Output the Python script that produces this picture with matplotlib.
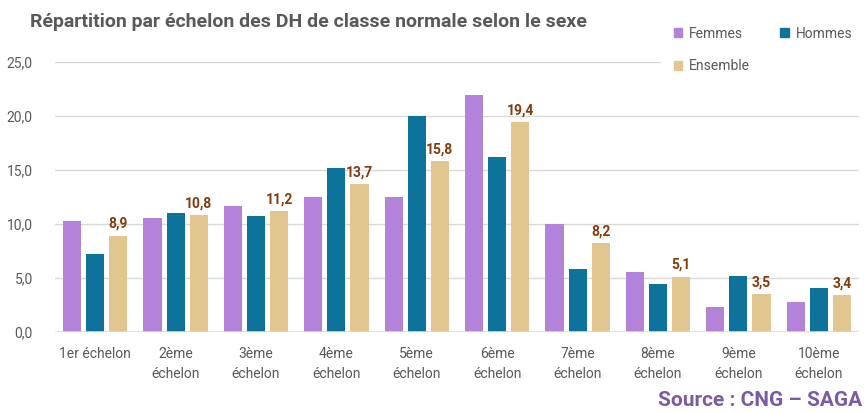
import numpy as np
import matplotlib.pyplot as plt
from matplotlib.patches import Patch

# Data
categories = ['1er échelon', '2ème\néchelon', '3ème\néchelon', '4ème\néchelon', '5ème\néchelon',
              '6ème\néchelon', '7ème\néchelon', '8ème\néchelon', '9ème\néchelon', '10ème\néchelon']
femmes = [10.3, 10.55, 11.7, 12.5, 12.5, 21.9, 10.0, 5.6, 2.3, 2.8]
hommes = [7.2, 11.0, 10.7, 15.2, 20.0, 16.2, 5.8, 4.45, 5.2, 4.1]
ensemble = [8.9, 10.8, 11.2, 13.7, 15.8, 19.4, 8.2, 5.1, 3.5, 3.4]
yticks = [0, 5, 10, 15, 20, 25]

c_f = '#B383D9'
c_h = '#0E739B'
c_e = '#E2C68F'
grey = '#595959'

plt.rcParams['font.family'] = ['Roboto', 'DejaVu Sans']

fig = plt.figure(figsize=(8.67, 4.12), dpi=100, facecolor='white')
ax = fig.add_axes([55 / 867, 1 - 332 / 412, 804 / 867, 270 / 412])

x = np.arange(len(categories))
w = 0.225
step = 0.2875
ax.bar(x - step, femmes, w, color=c_f, zorder=3)
ax.bar(x, hommes, w, color=c_h, zorder=3)
ax.bar(x + step, ensemble, w, color=c_e, zorder=3)

# labels on Ensemble
for xi, v in zip(x + step, ensemble):
    ax.text(xi, v + 0.45, f'{v:.1f}'.replace('.', ','), ha='center', va='bottom',
            fontsize=10, fontweight='bold', color='#843C0C')

ax.set_xlim(-0.5, len(categories) - 0.5)
ax.set_ylim(0, 25)

# gridlines (top one hidden behind legend)
for t in yticks[1:]:
    xmax = 0.752 if t == 25 else 1
    ax.axhline(t, xmin=0, xmax=xmax, color='#D9D9D9', lw=1, zorder=1)
ax.axhline(0, color='#D9D9D9', lw=1.2, zorder=4)

ax.set_yticks(yticks)
ax.set_yticklabels([f'{t:.1f}'.replace('.', ',') for t in yticks], color=grey, fontsize=10)
ax.set_xticks(x)
ax.set_xticklabels(categories, color=grey, fontsize=10, linespacing=1.55)
ax.tick_params(length=0, pad=11)
ax.tick_params(axis='y', pad=16)
for s in ax.spines.values():
    s.set_visible(False)

fig.text(30 / 867, 1 - 22 / 412, 'Répartition par échelon des DH de classe normale selon le sexe',
         fontsize=14, fontweight='bold', color=grey, va='center', ha='left')

handles = [Patch(color=c_f, label='Femmes'), Patch(color=c_e, label='Ensemble'),
           Patch(color=c_h, label='Hommes')]
fig.legend(handles=handles, ncol=2, loc='upper left', bbox_to_anchor=(661 / 867, 1 - 14 / 412),
           frameon=False, fontsize=10, handlelength=0.6, handleheight=0.6,
           handletextpad=0.5, columnspacing=2.2, labelspacing=1.35, labelcolor=grey)

fig.text(862 / 867, 1 - 400 / 412, 'Source : CNG – SAGA', fontsize=15, fontweight='bold',
         color='#7B5AA6', ha='right', va='center')

fig.savefig('out.png', dpi=100, facecolor='white')
